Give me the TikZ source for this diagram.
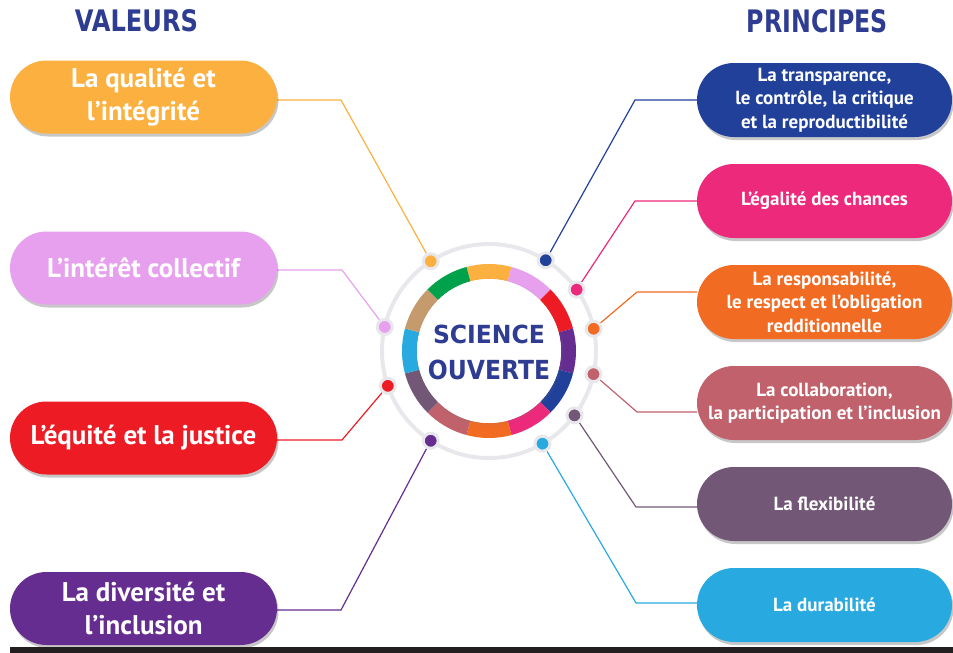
\documentclass[tikz,border=0pt]{standalone}
\usepackage{fontspec}
\setmainfont{PT Sans}
\newfontfamily\titlefont{DejaVu Sans Condensed Bold}
\usetikzlibrary{shadows,backgrounds,calc}
\definecolor{cOrange}{HTML}{FBB040}
\definecolor{cLav}{HTML}{E6A0EE}
\definecolor{cRed}{HTML}{ED1C24}
\definecolor{cPurple}{HTML}{662D91}
\definecolor{cBlue}{HTML}{21409A}
\definecolor{cMag}{HTML}{EC297B}
\definecolor{cOrTwo}{HTML}{F26B22}
\definecolor{cRose}{HTML}{C0616B}
\definecolor{cFlex}{HTML}{735776}
\definecolor{cSky}{HTML}{28AAE1}
\definecolor{cTan}{HTML}{C59B6D}
\definecolor{cGreen}{HTML}{00A14B}
\definecolor{cTitle}{HTML}{2E3C91}
\definecolor{ringgray}{HTML}{E8E8EC}
\definecolor{barcol}{HTML}{231F20}
\begin{document}
\begin{tikzpicture}[x=1pt,y=-1pt,
  pill/.style={rectangle, inner sep=0pt, text=white, align=center,
    drop shadow={shadow xshift=1.5pt, shadow yshift=-3pt, opacity=0.22, fill=black}},
  vbox/.style={pill, rounded corners=36.5pt, minimum width=267pt, minimum height=73pt,
    font=\fontsize{27}{33}\selectfont\bfseries},
  pbox/.style={pill, rounded corners=37pt, minimum width=255pt, minimum height=74pt,
    font=\fontsize{19}{23.5}\selectfont\bfseries},
  conn/.style={line width=1.2pt},
  dotnode/.style={circle, draw=ringgray, line width=3pt, minimum size=15pt, inner sep=0pt},
  titletext/.style={text=cTitle, inner sep=0pt, font=\titlefont}]

\useasboundingbox (0,0) rectangle (953,653);

% titles
\node[titletext] (tv) at (136.5,21) {\resizebox{123pt}{22pt}{VALEURS}};
\node[titletext] (tp) at (817.5,21.5) {\resizebox{141pt}{23pt}{PRINCIPES}};

% value boxes
\node[vbox, fill=cOrange] (v1) at (143.5,97) {La qualité et\\l’intégrité};
\node[vbox, fill=cLav] (v2) at (143.5,268) {L’intérêt collectif};
\node[vbox, fill=cRed] (v3) at (143.5,438) {L’équité et la justice};
\node[vbox, fill=cPurple] (v4) at (143.5,608.5) {La diversité et\\l’inclusion};

% principle boxes
\node[pbox, fill=cBlue] (p1) at (824.5,100) {La transparence,\\le contrôle, la critique\\et la reproductibilité};
\node[pbox, fill=cMag] (p2) at (824.5,201) {L’égalité des chances};
\node[pbox, fill=cOrTwo] (p3) at (824.5,302) {La responsabilité,\\le respect et l’obligation\\redditionnelle};
\node[pbox, fill=cRose] (p4) at (824.5,403) {La collaboration,\\la participation et l’inclusion};
\node[pbox, fill=cFlex] (p5) at (824.5,504) {La flexibilité};
\node[pbox, fill=cSky] (p6) at (824.5,605) {La durabilité};

% centre
\coordinate (C) at (489,351);
\draw[ringgray, line width=4pt] (C) circle[radius=107pt];
\begin{scope}[shift={(C)}]
  \foreach \a/\c in {90/cOrange,60/cLav,30/cRed,0/cPurple,-30/cBlue,-60/cMag,
                     -90/cOrTwo,-120/cRose,-150/cFlex,180/cSky,150/cTan,120/cGreen}{
    \fill[\c] (\a-15:87pt) arc[start angle=\a-15, end angle=\a+15, radius=87pt]
      -- (\a+15:72pt) arc[start angle=\a+15, end angle=\a-15, radius=72pt] -- cycle;
  }
  \node[dotnode, fill=cOrange] (d1) at (123:107pt) {};
  \node[dotnode, fill=cLav] (d2) at (167:107pt) {};
  \node[dotnode, fill=cRed] (d3) at (199:107pt) {};
  \node[dotnode, fill=cPurple] (d4) at (237:107pt) {};
  \node[dotnode, fill=cBlue] (e1) at (58:107pt) {};
  \node[dotnode, fill=cMag] (e2) at (35:107pt) {};
  \node[dotnode, fill=cOrTwo] (e3) at (12:107pt) {};
  \node[dotnode, fill=cRose] (e4) at (-12.5:107pt) {};
  \node[dotnode, fill=cFlex] (e5) at (-37:107pt) {};
  \node[dotnode, fill=cSky] (e6) at (-60:107pt) {};
\end{scope}
\node[circle, fill=white, minimum size=144pt, inner sep=0pt,
  circular drop shadow={shadow scale=1.04, shadow xshift=0pt, shadow yshift=-1pt, opacity=0.35}] (core) at (C) {};
\node[titletext] (sc) at (489,334) {\resizebox{112pt}{18.5pt}{SCIENCE}};
\node[titletext] (ou) at (489,370) {\resizebox{122pt}{19.5pt}{OUVERTE}};

% bends
\coordinate (b1) at (341,100);
\coordinate (b2) at (342,270);
\coordinate (b3) at (342,440);
\coordinate (b4) at (341,610);
\coordinate (c1) at (635,100);
\coordinate (c2) at (635,201);
\coordinate (c3) at (637,292);
\coordinate (c4) at (637,412);
\coordinate (c5) at (636,507);
\coordinate (c6) at (636,603);

\begin{pgfonlayer}{background}
  \draw[conn, cOrange] (v1.east |- b1) -- (b1) -- (d1);
  \draw[conn, cLav] (v2.east |- b2) -- (b2) -- (d2);
  \draw[conn, cRed] (v3.east |- b3) -- (b3) -- (d3);
  \draw[conn, cPurple] (v4.east |- b4) -- (b4) -- (d4);
  \draw[conn, cBlue] (e1) -- (c1) -- (p1.west |- c1);
  \draw[conn, cMag] (e2) -- (c2) -- (p2.west |- c2);
  \draw[conn, cOrTwo] (e3) -- (c3) -- (p3.west |- c3);
  \draw[conn, cRose] (e4) -- (c4) -- (p4.west |- c4);
  \draw[conn, cFlex] (e5) -- (c5) -- (p5.west |- c5);
  \draw[conn, cSky] (e6) -- (c6) -- (p6.west |- c6);
\end{pgfonlayer}

% bottom bar
\fill[barcol] (10,647) rectangle (953,653);
\end{tikzpicture}
\end{document}
